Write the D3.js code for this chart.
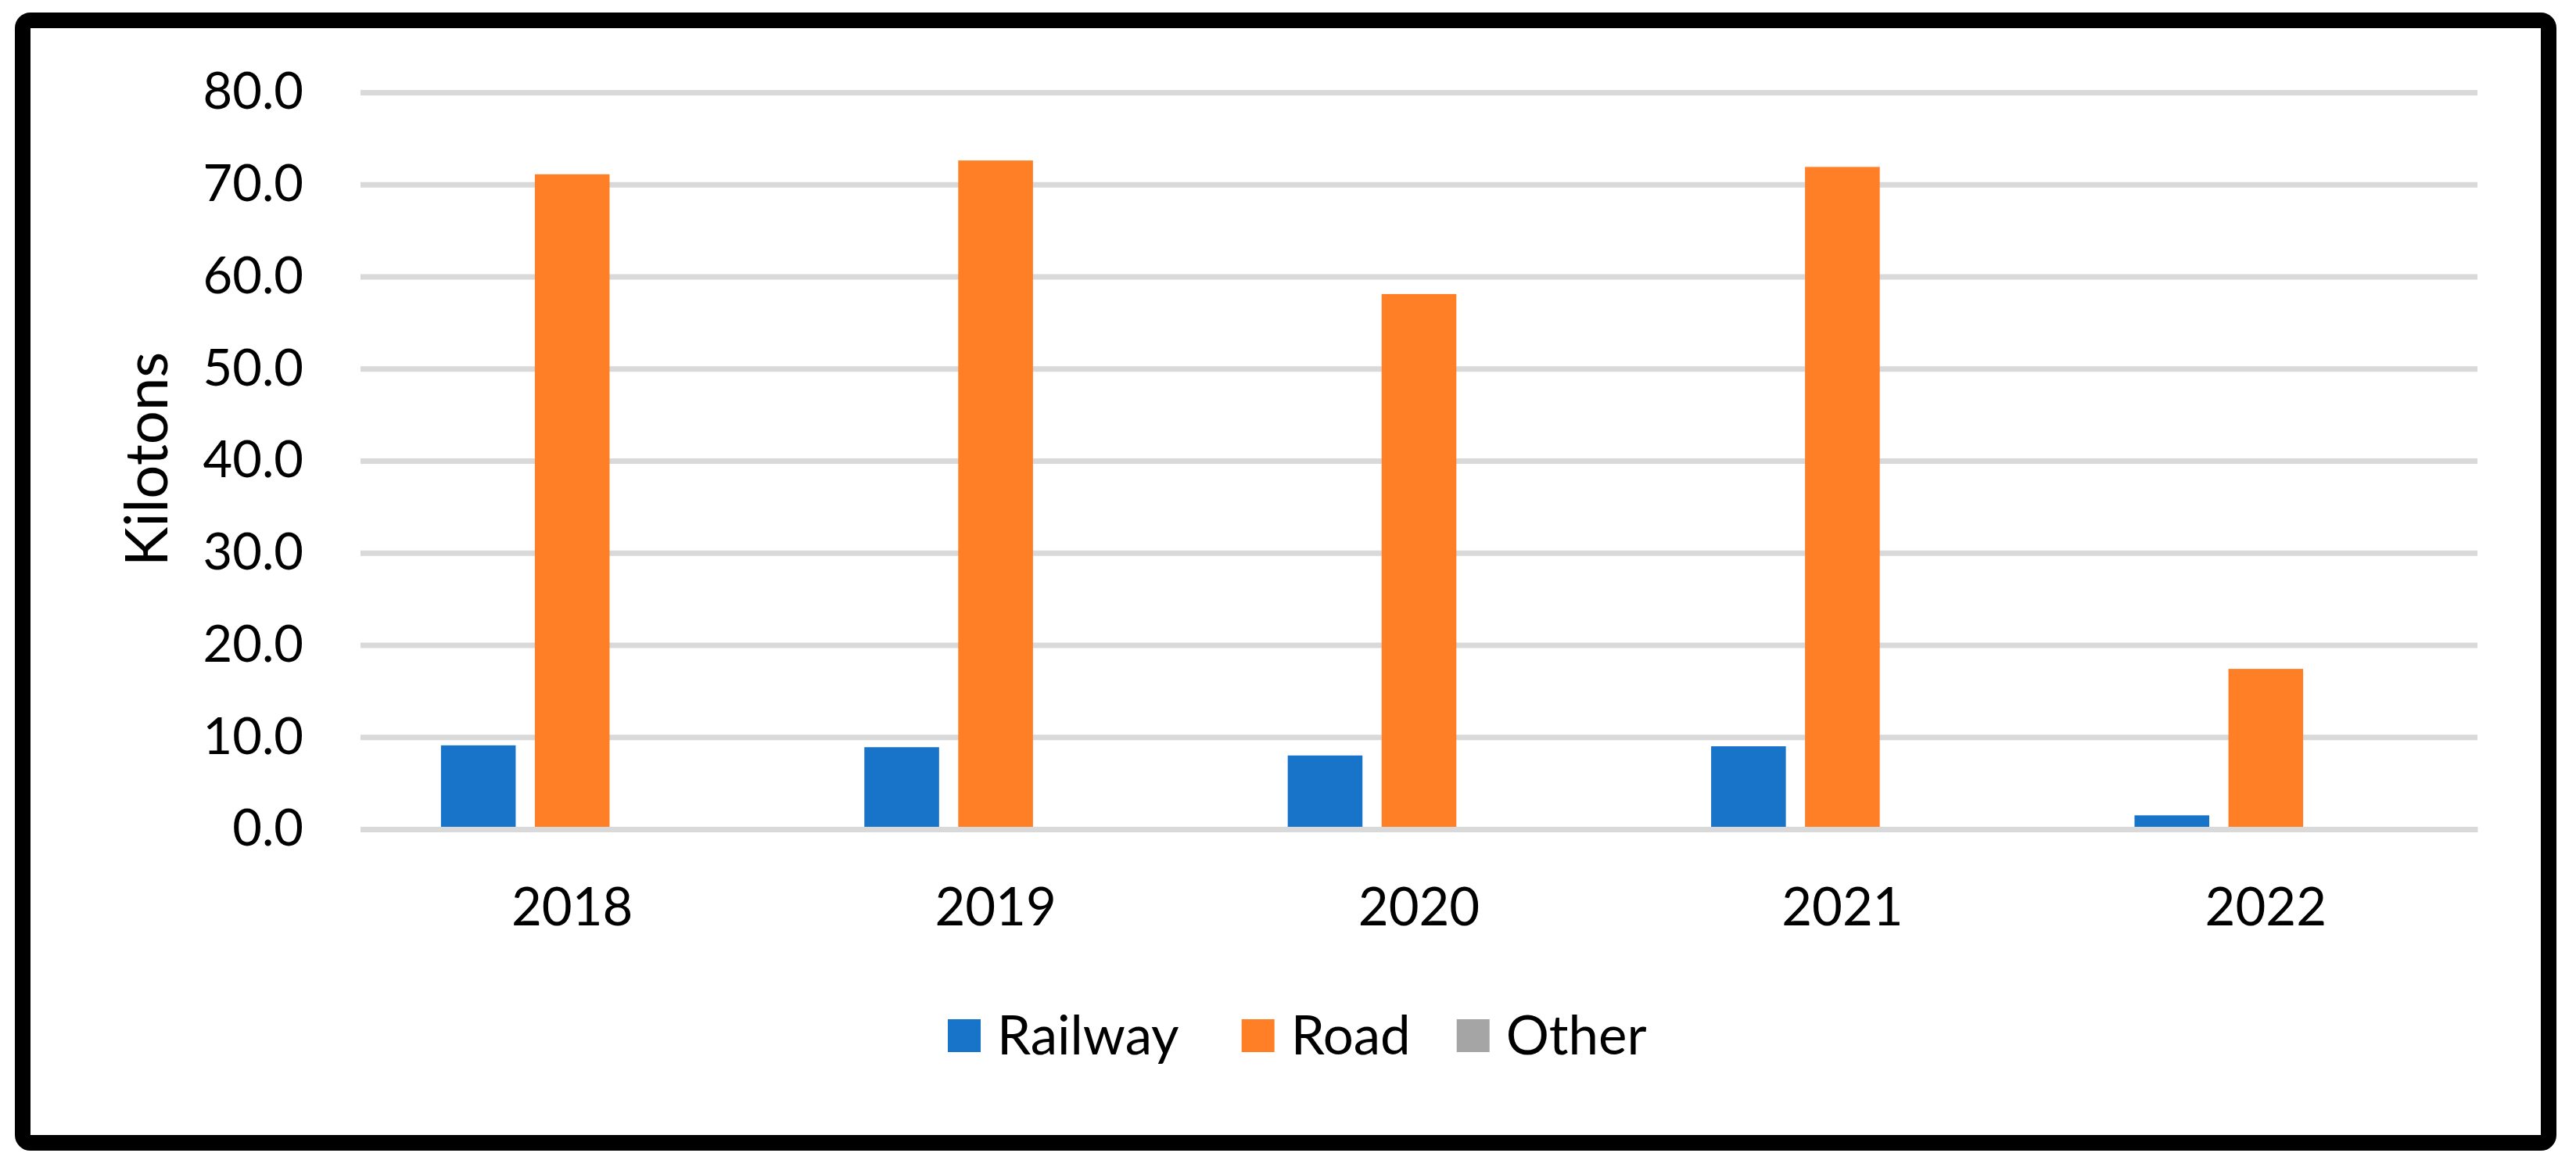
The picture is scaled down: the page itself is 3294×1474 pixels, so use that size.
<!DOCTYPE html>
<html>
<head>
<meta charset="utf-8">
<script src="https://cdn.jsdelivr.net/npm/d3@7"></script>
<style>
  body { margin: 0; background: #fff; }
  text { font-family: Lato, "Noto Sans", sans-serif; fill: #000; }
</style>
</head>
<body>
<script>
// data
const years = ['2018', '2019', '2020', '2021', '2022'];
const seriesNames = ['Railway', 'Road', 'Other'];
const railway = [9.1, 8.9, 8.0, 9.0, 1.5];
const road = [71.1, 72.6, 58.1, 71.9, 17.4];
const other = [0, 0, 0, 0, 0];
const yTicks = [0, 10, 20, 30, 40, 50, 60, 70, 80];

const colors = { Railway: '#1874c8', Road: '#ff7f27', Other: '#a5a5a5' };

let frame = { width: 3294, height: 1474 };
let plot = { left: 461, right: 3168, top: 118, bottom: 1060 };

let svg = d3.select('body')
  .append('svg')
  .attr('width', frame.width)
  .attr('height', frame.height);

// outer frame
svg.append('rect')
  .attr('x', 29).attr('y', 26)
  .attr('width', 3230).attr('height', 1435)
  .attr('rx', 10)
  .attr('fill', '#fff')
  .attr('stroke', '#000')
  .attr('stroke-width', 20);

let x0 = d3.scaleBand()
  .domain(years)
  .range([plot.left, plot.right])
  .paddingInner(0.38)
  .paddingOuter(0.19);

let x1 = d3.scaleBand()
  .domain(seriesNames)
  .range([0, x0.bandwidth()])
  .paddingInner(0.204);

let y = d3.scaleLinear()
  .domain([0, 80])
  .range([plot.bottom, plot.top]);

// gridlines + y labels
let yAxis = d3.axisLeft(y)
  .tickValues(yTicks)
  .tickFormat(d3.format('.1f'))
  .tickSize(-(plot.right - plot.left))
  .tickPadding(73);

let yg = svg.append('g')
  .attr('transform', `translate(${plot.left}, 0)`)
  .call(yAxis);
yg.select('.domain').remove();
yg.selectAll('line').attr('stroke', '#d9d9d9').attr('stroke-width', 7);
yg.selectAll('text').attr('font-size', 65).attr('font-family', 'Lato').attr('fill', '#000');

// bars
let rows = years.map((yr, i) => ({ year: yr, Railway: railway[i], Road: road[i], Other: other[i] }));

svg.append('g')
  .selectAll('g')
  .data(rows)
  .join('g')
  .attr('transform', d => `translate(${x0(d.year)}, 0)`)
  .selectAll('rect')
  .data(d => seriesNames.map(k => ({ key: k, value: d[k] })))
  .join('rect')
  .attr('x', d => x1(d.key))
  .attr('y', d => y(d.value))
  .attr('width', x1.bandwidth())
  .attr('height', d => y(0) - y(d.value))
  .attr('fill', d => colors[d.key]);

// category axis
let xAxis = d3.axisBottom(x0)
  .tickSize(0)
  .tickPadding(75);

let xg = svg.append('g')
  .attr('transform', `translate(0, ${plot.bottom})`)
  .call(xAxis);
xg.select('.domain').attr('stroke', '#d9d9d9').attr('stroke-width', 7);
xg.selectAll('text').attr('font-size', 67).attr('font-family', 'Lato').attr('fill', '#000');

// y axis title
svg.append('text')
  .attr('transform', 'translate(214, 587) rotate(-90)')
  .attr('text-anchor', 'middle')
  .attr('font-size', 76)
  .text('Kilotons');

// legend
let legend = svg.append('g').attr('transform', 'translate(0, 1324)');
let items = legend.selectAll('g')
  .data(seriesNames)
  .join('g');
items.append('rect')
  .attr('width', 42).attr('height', 42)
  .attr('y', -21)
  .attr('fill', d => colors[d]);
items.append('text')
  .attr('x', 63)
  .attr('y', 24)
  .attr('font-size', 69)
  .text(d => d);

let offset = 0;
let widths = [];
items.each(function () {
  let w = 63 + this.querySelector('text').getComputedTextLength();
  widths.push(w);
});
let gaps = [80, 59];
let start = 1212;
items.attr('transform', (d, i) => {
  let tx = start + offset;
  offset += widths[i] + (gaps[i] || 0);
  return `translate(${tx}, 0)`;
});
</script>
</body>
</html>
